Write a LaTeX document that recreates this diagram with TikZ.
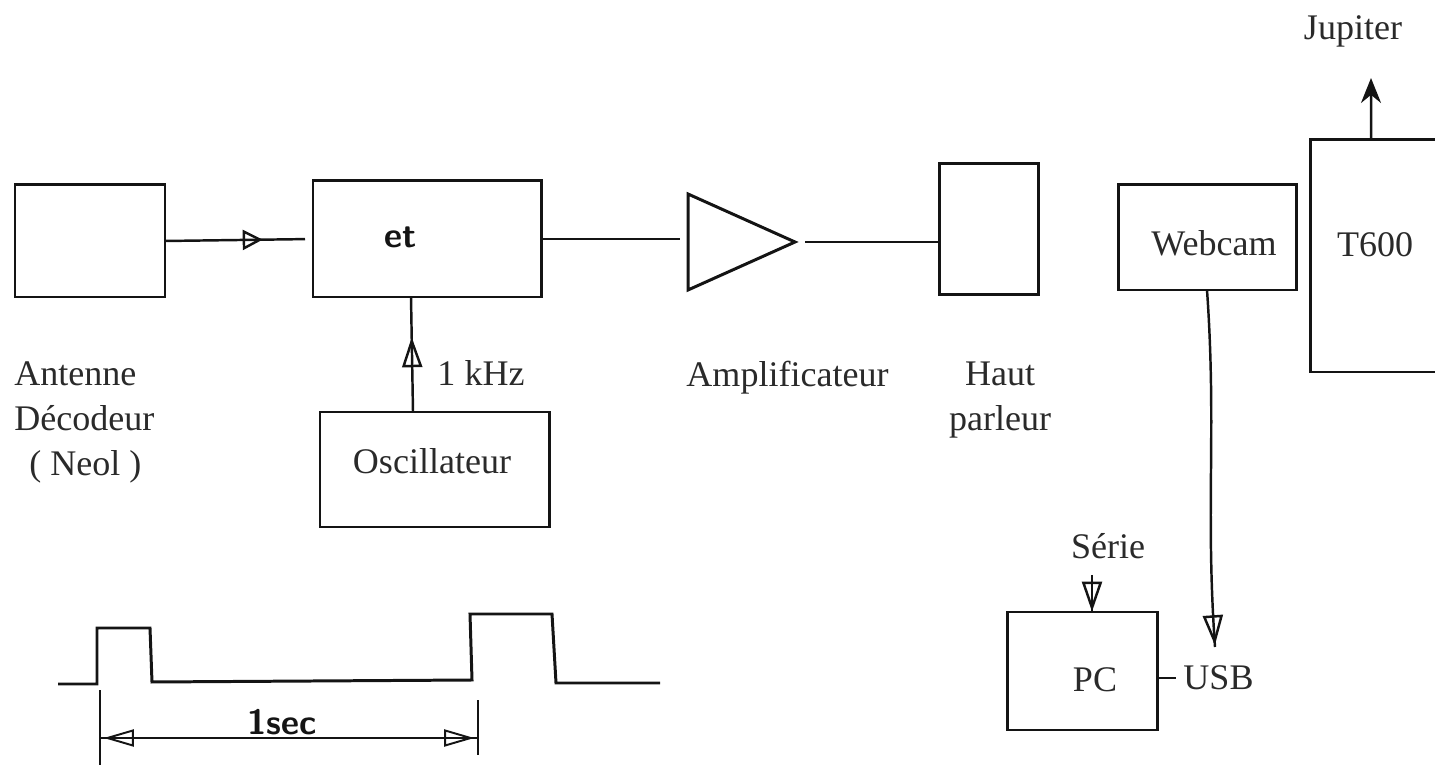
\documentclass[tikz,border=0pt]{standalone}
\usepackage{fontspec}
\setmainfont{Liberation Serif}
\usetikzlibrary{arrows.meta, positioning, shapes.geometric, calc, decorations.markings}
\definecolor{cink}{HTML}{141414}
\definecolor{ctext}{HTML}{2A2A2A}
\tikzset{
  every picture/.style={line width=1.7pt},
  block/.style={draw=cink, rectangle, outer sep=0pt},
  lbl/.style={font=\fontsize{20.5}{25.6}\selectfont, text=ctext, align=center},
  hand/.style={font=\sffamily\bfseries\fontsize{20}{24}\selectfont, text=cink},
  wire/.style={draw=cink, line width=1.4pt},
  thinwire/.style={draw=cink, line width=1.1pt},
  hollowtip/.style={postaction={decorate}, decoration={markings, mark=at position #1 with
    {\arrow[line width=1.4pt]{Triangle[open, length=6mm, width=4mm]}}}},
  smalltip/.style={postaction={decorate}, decoration={markings, mark=at position #1 with
    {\arrow[line width=1.4pt]{Triangle[open, length=4mm, width=4mm]}}}},
  spanarrow/.style={postaction={decorate}, decoration={markings,
    mark=at position 0.01 with {\arrowreversed[line width=1.1pt]{Triangle[open, length=6mm, width=3.4mm]}},
    mark=at position 0.99 with {\arrow[line width=1.1pt]{Triangle[open, length=6mm, width=3.4mm]}}}},
}
\begin{document}
\begin{tikzpicture}
  \useasboundingbox (0,0) rectangle (28.7,15.3);
  \clip (0,0) rectangle (28.7,15.3);
  % ---- top row: receiver chain ----
  \node[block, minimum width=3.0cm, minimum height=2.24cm] (antenne) at (1.8,10.48) {};
  \node[block, minimum width=4.56cm, minimum height=2.32cm] (mixer) at (8.54,10.52) {};
  \node[block, minimum width=4.58cm, minimum height=2.30cm] (osc) at (8.69,5.91) {};
  \node[block, isosceles triangle, isosceles triangle stretches, shape border rotate=0,
    minimum width=1.92cm, minimum height=2.14cm, inner sep=0pt, anchor=lower side] (ampli) at (13.76,10.46) {};
  \node[block, minimum width=1.98cm, minimum height=2.62cm] (haut) at (19.77,10.71) {};
  \node[hand] (etlbl) at (8.02,10.55) {et};
  \node[lbl] (osclbl) at (8.64,6.08) {Oscillateur};
  \node[lbl] (khz) at (9.62,7.84) {1 kHz};
  \node[lbl, align=left, anchor=west] (antlbl) at (0.14,6.86) {Antenne\\Décodeur\\\hspace*{0.3cm}( Neol )};
  \node[lbl] (amplbl) at (15.75,7.74) {Amplificateur};
  \node[lbl] (hautlbl) at (20.0,7.3) {Haut\\parleur};
  \draw[wire, smalltip=0.66, shorten >=0.16cm] (antenne.east) -- (mixer.west);
  \draw[wire, shorten >=0.16cm] (mixer.east) -- (mixer.east -| ampli.lower side);
  \draw[wire, shorten <=0.2cm] (ampli.east) -- (ampli.east -| haut.west);
  \draw[wire, hollowtip=0.65] ([xshift=-0.43cm]osc.north) -- ([xshift=-0.32cm]mixer.south);
  % ---- right: camera, telescope and PC ----
  \node[block, minimum width=3.56cm, minimum height=2.10cm] (webcam) at (24.14,10.55) {};
  \node[block, minimum width=2.7cm, minimum height=4.64cm] (t600) at (27.55,10.18) {};
  \node[block, minimum width=3.0cm, minimum height=2.36cm] (pc) at (21.64,1.88) {};
  \node[lbl] (weblbl) at (24.28,10.44) {Webcam};
  \node[lbl] (t600lbl) at (27.5,10.4) {T600};
  \node[lbl] (pclbl) at (21.9,1.7) {PC};
  \node[lbl] (jupiter) at (27.06,14.68) {Jupiter};
  \node[lbl] (serie) at (22.16,4.38) {Série};
  \node[lbl] (usb) at (24.37,1.74) {USB};
  \coordinate (jupend) at (27.42,13.74);
  \coordinate (seriestart) at (21.84,3.8);
  \coordinate (usbend) at (24.3,2.36);
  \draw[wire, -{Stealth[length=5mm, width=4mm]}] ([xshift=-0.13cm]t600.north) -- (jupend);
  \draw[wire, hollowtip=0.995] (webcam.south) to[out=-86, in=94] (usbend);
  \draw[wire, hollowtip=0.99] (seriestart) -- ([xshift=0.2cm]pc.north);
  \draw[wire, line width=1.7pt] (usb.west -| pc.east) -- (usb.west);
  % ---- bottom left: pulses one second apart ----
  \draw[cink] (1.16,1.62) -- (1.94,1.62) -- (1.94,2.74) -- (3.0,2.74) -- (3.04,1.66)
    -- (9.44,1.7) -- (9.4,3.02) -- (11.04,3.02) -- (11.12,1.64) -- (13.2,1.64);
  \coordinate (spanleft) at (2.0,0.54);
  \coordinate (spanright) at (9.56,0.54);
  \draw[thinwire] (2.0,1.5) -- (2.0,0);
  \draw[thinwire] (9.56,1.3) -- (9.56,0.2);
  \draw[thinwire, spanarrow] (spanleft) -- (spanright);
  \node[hand] (seclbl) at (5.64,0.86) {1sec};
\end{tikzpicture}
\end{document}
